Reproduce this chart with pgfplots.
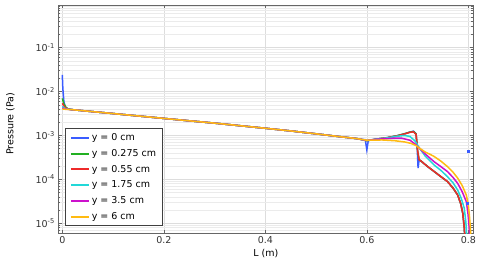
\documentclass[border=0pt]{standalone}
\usepackage{fontspec}
\setmainfont{DejaVu Sans}
\usepackage{pgfplots}
\pgfplotsset{compat=1.18}
\definecolor{cBlue}{HTML}{3A5CFF}
\definecolor{cGreen}{HTML}{22B022}
\definecolor{cRed}{HTML}{EE2A2A}
\definecolor{cCyan}{HTML}{22D8D8}
\definecolor{cMag}{HTML}{CC11CC}
\definecolor{cOra}{HTML}{FFBB11}
\definecolor{gridmaj}{HTML}{DDDDDD}
\definecolor{gridmin}{HTML}{EBEBEB}
\definecolor{axgray}{HTML}{666666}
\begin{document}
\begin{tikzpicture}
\path[use as bounding box] (-58.3bp,-28.7bp) rectangle (421.7bp,233.3bp);
\begin{axis}[
  scale only axis,
  width=415bp, height=228.3bp,
  ymode=log,
  xmin=-0.0079, xmax=0.8098,
  ymin=5.9e-6, ymax=0.94,
  xtick={0,0.2,0.4,0.6,0.8},
  xticklabels={0,0.2,0.4,0.6,0.8},
  yticklabel={10\textsuperscript{\pgfmathparse{int(round(\tick/ln(10)))}\pgfmathresult}},
  /pgf/number format/assume math mode=true,
  font=\fontsize{9.5bp}{11bp}\selectfont,
  tick label style={font=\fontsize{9.5bp}{11bp}\selectfont, text=black!80},
  xmajorgrids, ymajorgrids, yminorgrids,
  major grid style={gridmaj, line width=0.6bp},
  minor grid style={gridmin, line width=0.6bp},
  axis line style={axgray, line width=0.8bp},
  tick style={axgray, line width=0.6bp},
  tick align=inside,
  major tick length=3.5bp, minor tick length=2bp,
  xlabel={L (m)}, ylabel={Pressure (Pa)},
  x label style={at={(axis description cs:0.5,-0.09)}, anchor=center},
  y label style={at={(axis description cs:-0.1157,0.48)}, anchor=center},
  legend cell align=left,
  legend style={at={(axis description cs:0,0)}, anchor=south west, xshift=7bp, yshift=7bp,
    draw=black!75, line width=1bp, fill=white,
    font=\fontsize{9.5bp}{11bp}\selectfont, row sep=3.2bp,
    inner xsep=4bp, inner ysep=3bp},
  legend image code/.code={\draw[mark repeat=2,mark phase=2,#1] plot coordinates {(0bp,0bp) (9bp,0bp) (18bp,0bp)};},
  legend image post style={line width=2bp},
]
\addplot[cBlue, line width=1.5bp, no markers] coordinates {(0,2.4e-2) (0.001,1.2e-2) (0.003,6e-3) (0.006,4.4e-3) (0.01,4.05e-3) (0.02,3.87e-3) (0.05,3.58e-3) (0.1,3.16e-3) (0.15,2.78e-3) (0.2,2.45e-3) (0.25,2.16e-3) (0.3,1.91e-3) (0.35,1.67e-3) (0.4,1.46e-3) (0.45,1.27e-3) (0.5,1.09e-3) (0.55,9.3e-4) (0.58,8.5e-4) (0.597,8.0e-4) (0.6,4.7e-4) (0.603,7.8e-4) (0.62,8.3e-4) (0.64,8.9e-4) (0.66,9.9e-4) (0.675,1.1e-3) (0.685,1.2e-3) (0.692,1.25e-3) (0.697,1.1e-3) (0.699,6e-4) (0.701,1.8e-4) (0.703,2.8e-4) (0.707,2.6e-4) (0.72,1.95e-4) (0.733,1.5e-4) (0.746,1.15e-4) (0.759,8.9e-5) (0.77,6.3e-5) (0.779,4.4e-5) (0.785,2.8e-5) (0.789,1.7e-5) (0.792,8e-6) (0.794,3e-6)};
\addlegendentry{y = 0 cm}
\addplot[cGreen, line width=1.5bp, no markers] coordinates {(0,7e-3) (0.003,5.3e-3) (0.007,4.4e-3) (0.012,4.0e-3) (0.02,3.87e-3) (0.05,3.58e-3) (0.1,3.16e-3) (0.15,2.78e-3) (0.2,2.45e-3) (0.25,2.16e-3) (0.3,1.91e-3) (0.35,1.67e-3) (0.4,1.46e-3) (0.45,1.27e-3) (0.5,1.09e-3) (0.55,9.3e-4) (0.58,8.5e-4) (0.6,7.6e-4) (0.62,8.3e-4) (0.64,8.9e-4) (0.66,9.9e-4) (0.675,1.1e-3) (0.685,1.19e-3) (0.692,1.23e-3) (0.697,1.08e-3) (0.700,4.5e-4) (0.703,2.8e-4) (0.707,2.6e-4) (0.72,1.95e-4) (0.733,1.5e-4) (0.746,1.15e-4) (0.759,8.9e-5) (0.77,6.3e-5) (0.779,4.4e-5) (0.785,2.8e-5) (0.789,1.7e-5) (0.792,8e-6) (0.794,3e-6)};
\addlegendentry{y = 0.275 cm}
\addplot[cRed, line width=1.5bp, no markers] coordinates {(0,5.4e-3) (0.003,4.7e-3) (0.007,4.2e-3) (0.012,3.98e-3) (0.02,3.87e-3) (0.05,3.58e-3) (0.1,3.16e-3) (0.15,2.78e-3) (0.2,2.45e-3) (0.25,2.16e-3) (0.3,1.91e-3) (0.35,1.67e-3) (0.4,1.46e-3) (0.45,1.27e-3) (0.5,1.09e-3) (0.55,9.3e-4) (0.58,8.5e-4) (0.6,7.6e-4) (0.62,8.3e-4) (0.64,8.9e-4) (0.66,9.8e-4) (0.675,1.09e-3) (0.685,1.18e-3) (0.692,1.21e-3) (0.697,1.06e-3) (0.700,4.6e-4) (0.703,2.8e-4) (0.707,2.6e-4) (0.72,1.95e-4) (0.733,1.5e-4) (0.746,1.15e-4) (0.759,8.9e-5) (0.77,6.3e-5) (0.779,4.4e-5) (0.785,2.8e-5) (0.789,1.7e-5) (0.792,8e-6) (0.794,3e-6)};
\addlegendentry{y = 0.55 cm}
\addplot[cCyan, line width=1.5bp, no markers] coordinates {(0,4.6e-3) (0.005,4.15e-3) (0.012,3.95e-3) (0.02,3.87e-3) (0.05,3.58e-3) (0.1,3.16e-3) (0.15,2.78e-3) (0.2,2.45e-3) (0.25,2.16e-3) (0.3,1.91e-3) (0.35,1.67e-3) (0.4,1.46e-3) (0.45,1.27e-3) (0.5,1.09e-3) (0.55,9.3e-4) (0.58,8.5e-4) (0.6,7.6e-4) (0.62,8.3e-4) (0.64,8.8e-4) (0.66,9.6e-4) (0.674,1.0e-3) (0.685,9.5e-4) (0.695,7.5e-4) (0.704,5.1e-4) (0.715,3.4e-4) (0.725,2.6e-4) (0.733,2.1e-4) (0.746,1.6e-4) (0.759,1.15e-4) (0.77,8.3e-5) (0.779,5.7e-5) (0.786,3.7e-5) (0.792,2.2e-5) (0.795,1.1e-5) (0.797,5e-6)};
\addlegendentry{y = 1.75 cm}
\addplot[cMag, line width=1.5bp, no markers] coordinates {(0,4.2e-3) (0.006,4.02e-3) (0.012,3.93e-3) (0.02,3.87e-3) (0.05,3.58e-3) (0.1,3.16e-3) (0.15,2.78e-3) (0.2,2.45e-3) (0.25,2.16e-3) (0.3,1.91e-3) (0.35,1.67e-3) (0.4,1.46e-3) (0.45,1.27e-3) (0.5,1.09e-3) (0.55,9.3e-4) (0.58,8.5e-4) (0.6,7.7e-4) (0.62,8.2e-4) (0.64,8.5e-4) (0.655,8.7e-4) (0.668,8.7e-4) (0.685,7.8e-4) (0.695,6.4e-4) (0.704,5.1e-4) (0.715,3.8e-4) (0.725,3.0e-4) (0.733,2.5e-4) (0.746,1.95e-4) (0.759,1.5e-4) (0.77,1.1e-4) (0.779,8.1e-5) (0.788,5.2e-5) (0.796,3.1e-5) (0.799,1.8e-5) (0.801,1.0e-5) (0.803,5e-6)};
\addlegendentry{y = 3.5 cm}
\addplot[cOra, line width=1.5bp, no markers] coordinates {(0,4.0e-3) (0.01,3.93e-3) (0.02,3.87e-3) (0.05,3.58e-3) (0.1,3.16e-3) (0.15,2.78e-3) (0.2,2.45e-3) (0.25,2.16e-3) (0.3,1.91e-3) (0.35,1.67e-3) (0.4,1.46e-3) (0.45,1.27e-3) (0.5,1.09e-3) (0.55,9.3e-4) (0.58,8.5e-4) (0.6,7.8e-4) (0.63,7.9e-4) (0.655,7.6e-4) (0.675,7.1e-4) (0.687,6.6e-4) (0.697,5.9e-4) (0.704,5.1e-4) (0.715,4.2e-4) (0.725,3.7e-4) (0.733,3.3e-4) (0.746,2.6e-4) (0.759,1.95e-4) (0.77,1.45e-4) (0.779,1.07e-4) (0.788,7.2e-5) (0.796,4.4e-5) (0.8,2.6e-5) (0.802,1.55e-5) (0.804,8e-6) (0.805,5e-6)};
\addlegendentry{y = 6 cm}
\addplot[cBlue, only marks, mark=square*, mark size=0.9bp, forget plot] coordinates {(0.8,4.3e-4) (0.797,2.9e-5)};
\end{axis}
\end{tikzpicture}
\end{document}
